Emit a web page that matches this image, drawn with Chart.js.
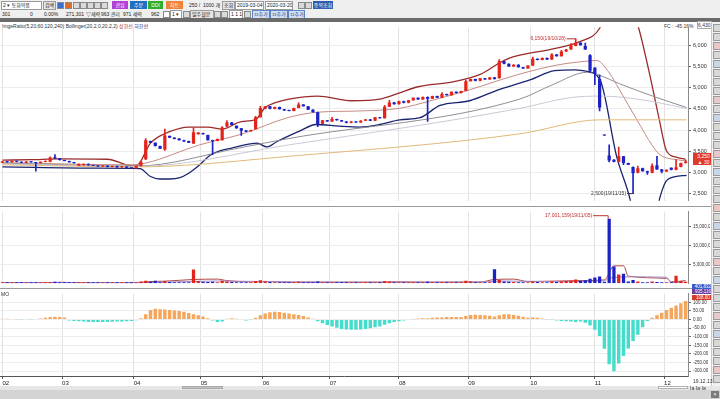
<!DOCTYPE html>
<html>
<head>
<meta charset="utf-8">
<script src="https://cdn.jsdelivr.net/npm/chart.js@4.4.1/dist/chart.umd.min.js"></script>
<style>
html, body { margin: 0; padding: 0; background: #fff; }
body { width: 720px; height: 399px; position: relative; overflow: hidden; font-family: "Liberation Sans", "Noto Sans CJK KR", sans-serif; }
.tb { position: absolute; left: 0; width: 720px; background: #efefef; }
.t { position: absolute; font-size: 5px; line-height: 8px; color: #222; white-space: nowrap; }
.box { position: absolute; height: 7px; border: 1px solid #9a9a9a; background: #fff; font-size: 5px; line-height: 7px; color: #222; white-space: nowrap; overflow: hidden; padding-left: 1px; }
.btn { position: absolute; height: 8px; font-size: 5px; line-height: 8px; color: #fff; text-align: center; }
.ic { position: absolute; width: 5px; height: 5px; border: 1px solid #8a8a8a; background: #dadada; }
canvas { position: absolute; left: 0; }
</style>
</head>
<body>

<div class="tb" style="top:0;height:18px;"></div>
<!-- row 1 -->
<div class="box" style="left:1px;top:1px;width:38px;">2 ▾ 동화약품</div>
<div class="box" style="left:43px;top:1px;width:10px;background:#e4e4e4;">검색</div>
<div class="ic" style="left:57px;top:2px;background:#3a6fd0;"></div>
<div class="ic" style="left:65px;top:2px;background:#e06a2a;"></div>
<div class="ic" style="left:73px;top:2px;"></div>
<div class="ic" style="left:80px;top:2px;"></div>
<div class="ic" style="left:87px;top:2px;"></div>
<div class="ic" style="left:94px;top:2px;"></div>
<div class="ic" style="left:101px;top:2px;"></div>
<div class="btn" style="left:112px;top:1px;width:16px;background:#b13fd8;">관심</div>
<div class="btn" style="left:130px;top:1px;width:17px;background:#1f6fc4;">주문</div>
<div class="btn" style="left:148px;top:1px;width:15px;background:#2fae2f;">DDI</div>
<div class="btn" style="left:166px;top:1px;width:17px;background:#f0843a;">차트</div>
<div class="t" style="left:189px;top:1px;">250 /</div>
<div class="t" style="left:203px;top:1px;">1000 개</div>
<div class="box" style="left:222px;top:1px;width:10px;background:#e4e4e4;">조회</div>
<div class="box" style="left:235px;top:1px;width:26px;">2019-03-04 ▾</div>
<div class="box" style="left:265px;top:1px;width:25px;">2020-03-20 ▾</div>
<div class="ic" style="left:298px;top:2px;"></div>
<div class="ic" style="left:305px;top:2px;"></div>
<div class="btn" style="left:313px;top:1px;width:20px;background:#2b5fae;">종목조회</div>
<!-- row 2 -->
<div class="t" style="left:2px;top:10px;">301</div>
<div class="t" style="left:30px;top:10px;">0</div>
<div class="t" style="left:44px;top:10px;">0.00%</div>
<div class="t" style="left:66px;top:10px;">271,301</div>
<div class="t" style="left:86px;top:10px;">▽세력</div>
<div class="t" style="left:101px;top:10px;">963 관리</div>
<div class="t" style="left:123px;top:10px;">971 세력</div>
<div class="t" style="left:151px;top:10px;">962</div>
<div class="ic" style="left:163px;top:11px;background:#fff;"></div>
<div class="box" style="left:170px;top:10px;width:9px;">1 ▾</div>
<div class="ic" style="left:183px;top:11px;"></div>
<div class="box" style="left:190px;top:10px;width:21px;background:#e4e4e4;">일주월분</div>
<div class="ic" style="left:214px;top:11px;"></div>
<div class="ic" style="left:221px;top:11px;"></div>
<div class="box" style="left:229px;top:10px;width:11px;">1 1 1</div>
<div class="ic" style="left:244px;top:11px;"></div>
<div class="box" style="left:252px;top:10px;width:15px;background:#cfe0f6;border-color:#5a86c8;color:#1a3f7a;">ㅁ추가</div>
<div class="box" style="left:270px;top:10px;width:15px;background:#cfe0f6;border-color:#5a86c8;color:#1a3f7a;">ㅁ추가</div>
<div class="box" style="left:288px;top:10px;width:14px;background:#cfe0f6;border-color:#5a86c8;color:#1a3f7a;">ㅁ추가</div>
<div style="position:absolute;left:0;top:18px;width:720px;height:4px;background:#6b6b6b;"></div>

<!-- panel legend / info -->
<div class="t" style="left:2px;top:22px;font-size:5px;color:#333;">ImgeRatio(5,20,60,120,240) Bollinger(20,2,0,20,2,2) <span style="color:#a03030">상한선</span> <span style="color:#1a237e">하한선</span></div>
<div class="t" style="left:664px;top:22px;font-size:5px;color:#333;">FC : -45.16%</div>
<div class="t" style="left:697px;top:21px;font-size:5px;color:#333;border:1px solid #aaa;line-height:6px;">6,430</div>

<canvas id="c-price" width="710" height="184" style="top:22px;"></canvas>
<div style="position:absolute;left:0;top:206px;width:711px;height:1px;background:#9a9a9a;"></div>
<canvas id="c-volume" width="710" height="81" style="top:207px;"></canvas>
<div style="position:absolute;left:0;top:288px;width:711px;height:1px;background:#9a9a9a;"></div>
<canvas id="c-osc" width="710" height="99" style="top:289px;"></canvas>
<div class="t" style="left:1px;top:290px;font-size:5px;color:#333;">MO</div>

<!-- right side badges -->
<div style="position:absolute;left:693px;top:153px;width:21px;height:12px;background:#e03a2a;color:#fff;font-size:5px;line-height:6px;text-align:center;">3,250<br>▲ 30</div>
<div style="position:absolute;left:692px;top:284px;width:22px;height:5px;background:#3a5cc8;color:#fff;font-size:4.5px;line-height:5px;text-align:center;">401,832</div>
<div style="position:absolute;left:692px;top:289px;width:22px;height:5px;background:#6a3fa0;color:#fff;font-size:4.5px;line-height:5px;text-align:center;">935,116</div>
<div style="position:absolute;left:692px;top:295px;width:22px;height:5px;background:#d83a2a;color:#fff;font-size:4.5px;line-height:5px;text-align:center;">108.00</div>

<!-- icon column -->
<div id="icons" style="position:absolute;left:711px;top:22px;width:9px;height:364px;background:#f2f2f2;border-left:1px solid #c8c8c8;"></div>

<!-- bottom bars -->
<div class="t" style="left:693px;top:377px;font-size:5px;color:#333;">19.12.13</div>
<div style="position:absolute;left:0;top:386px;width:720px;height:4px;background:#e6e6e6;"></div>
<div style="position:absolute;left:182px;top:386px;width:41px;height:3px;background:#c4c4c4;border:1px solid #a8a8a8;box-sizing:border-box;"></div>
<div style="position:absolute;left:658px;top:386px;width:30px;height:3px;background:#fff;border:1px solid #b0b0b0;box-sizing:border-box;"></div>
<div class="t" style="left:690px;top:384px;font-size:5px;color:#333;">Ia·Ia·Ia</div>
<div style="position:absolute;left:0;top:390px;width:720px;height:9px;background:#d4d4d4;"></div>
<div style="position:absolute;left:711px;top:391px;width:8px;height:7px;background:#7a7a7a;color:#fff;font-size:6px;line-height:7px;text-align:center;">×</div>

<script>
var N = 144;
var MONTHS = ['02', '03', '04', '05', '06', '07', '08', '09', '10', '11', '12'];
var MONTH_AT = [0, 12.5, 27.5, 41.5, 54.5, 68.5, 83, 97.5, 110.5, 124, 138.5];

var OPEN = [
  3230, 3260, 3240, 3270, 3250, 3230, 3260, 3240, 3220, 3250,
  3250, 3360, 3330, 3290, 3270, 3240, 3160, 3170, 3200, 3170,
  3160, 3140, 3160, 3130, 3150, 3120, 3140, 3110, 3100, 3150,
  3310, 3740, 3700, 3620, 3540, 3860, 3820, 3800, 3760, 3740,
  3680, 3900, 3930, 3880, 3760, 3740, 3760, 4080, 4180, 4100,
  4040, 3990, 3970, 4020, 4300, 4500, 4560, 4500, 4540, 4490,
  4470, 4450, 4520, 4600, 4560, 4480, 4420, 4150, 4230, 4200,
  4260, 4230, 4200, 4170, 4200, 4180, 4220, 4250, 4220, 4300,
  4280, 4550, 4650, 4610, 4680, 4640, 4700, 4760, 4720, 4780,
  4740, 4800, 4760, 4850, 4820, 4900, 4870, 4920, 5150, 5200,
  5160, 5220, 5190, 5240, 5220, 5620, 5560, 5500, 5540, 5480,
  5450, 5520, 5680, 5650, 5700, 5660, 5780, 5740, 5850, 5900,
  5980, 6060, 5980, 5760, 5470, 5200, 3880, 3400, 3300, 3250,
  3380, 3220, 3130, 2990, 3100, 3030, 2990, 3170, 3070, 3020,
  3110, 3060, 3130, 3220
];
var CLOSE = [
  3260, 3240, 3270, 3250, 3230, 3260, 3240, 3220, 3250, 3270,
  3350, 3330, 3290, 3270, 3240, 3220, 3200, 3200, 3170, 3160,
  3140, 3160, 3130, 3150, 3120, 3140, 3110, 3100, 3150, 3250,
  3760, 3700, 3620, 3560, 3870, 3820, 3790, 3760, 3730, 3700,
  3950, 3940, 3900, 3760, 3740, 3790, 4060, 4180, 4120, 4040,
  3980, 3960, 4000, 4300, 4520, 4560, 4500, 4540, 4490, 4460,
  4450, 4520, 4600, 4560, 4480, 4420, 4130, 4230, 4200, 4260,
  4230, 4200, 4170, 4200, 4180, 4220, 4250, 4220, 4300, 4280,
  4550, 4650, 4610, 4680, 4640, 4700, 4760, 4720, 4780, 4740,
  4800, 4760, 4850, 4820, 4900, 4870, 4920, 5150, 5200, 5160,
  5220, 5190, 5240, 5200, 5620, 5560, 5500, 5540, 5480, 5450,
  5520, 5680, 5650, 5700, 5660, 5780, 5740, 5850, 5900, 6000,
  6060, 6000, 5900, 5400, 5320, 4530, 3870, 3280, 3250, 3380,
  3220, 3180, 2980, 3100, 3030, 3000, 3160, 3070, 3020, 3060,
  3060, 3120, 3220, 3250
];
// null = no wick beyond the body
var HIGH = [
  null, null, null, null, null, null, null, null, null, null,
  3370, 3420, null, null, null, null, null, null, null, null,
  null, null, null, null, null, null, null, null, null, 3270,
  3800, null, null, null, 4020, null, null, null, null, null,
  4050, null, null, null, null, null, 4080, 4220, null, null,
  null, null, null, 4320, 4560, null, null, null, null, null,
  null, null, 4640, null, null, null, null, null, null, 4300,
  null, null, null, null, null, null, null, null, null, null,
  4580, 4700, null, null, null, null, null, null, null, null,
  null, null, 4880, null, null, null, null, 5180, null, null,
  null, null, null, null, 5660, null, null, null, null, null,
  null, 5720, null, null, null, 5800, null, 5880, null, 6040,
  6150, null, 6050, 5780, null, 5300, 3880, 3650, null, 3600,
  null, null, null, 3150, null, null, 3200, 3380, null, null,
  null, 3300, null, 3290
];
var LOW = [
  null, null, null, null, null, null, null, 3030, null, null,
  null, null, null, null, null, null, null, null, null, null,
  null, null, null, null, null, null, null, null, null, null,
  3300, null, null, null, 3520, null, null, null, null, null,
  null, null, null, null, 3420, null, null, null, null, null,
  3870, null, null, null, null, null, null, null, null, null,
  null, null, null, null, null, null, 4080, null, null, null,
  null, null, null, null, null, null, null, null, null, null,
  null, null, null, null, null, null, null, null, null, 4200,
  null, null, null, null, null, null, null, null, null, null,
  null, null, null, null, null, null, null, null, null, null,
  null, null, null, null, null, null, null, null, null, null,
  null, null, null, 5350, 5070, 4450, 3870, 3250, null, null,
  3180, null, 2500, null, null, 2950, null, null, 2990, null,
  null, null, null, null
];
var VOLUME = [
  180000, 150000, 170000, 140000, 130000, 160000, 150000, 140000, 170000, 200000,
  320000, 380000, 220000, 160000, 140000, 130000, 150000, 140000, 120000, 110000,
  120000, 100000, 110000, 100000, 110000, 120000, 100000, 110000, 250000, 450000,
  700000, 400000, 700000, 300000, 600000, 350000, 250000, 220000, 200000, 250000,
  3600000, 600000, 400000, 350000, 400000, 300000, 700000, 500000, 350000, 300000,
  280000, 250000, 250000, 600000, 800000, 450000, 350000, 300000, 250000, 220000,
  200000, 300000, 400000, 300000, 250000, 250000, 500000, 300000, 220000, 200000,
  180000, 170000, 160000, 170000, 150000, 160000, 170000, 150000, 200000, 180000,
  600000, 500000, 300000, 280000, 250000, 260000, 300000, 250000, 260000, 400000,
  280000, 250000, 300000, 250000, 280000, 240000, 260000, 700000, 450000, 300000,
  300000, 250000, 280000, 3700000, 900000, 500000, 400000, 350000, 300000, 280000,
  300000, 500000, 350000, 300000, 280000, 450000, 350000, 500000, 600000, 700000,
  1000000, 700000, 800000, 1200000, 1500000, 1800000, 400000, 17001159, 4400000, 2300000,
  2500000, 500000, 900000, 500000, 300000, 300000, 500000, 350000, 250000, 250000,
  200000, 2000000, 600000, 400000
];
var OSC = [
  5, 4, 3, 2, -2, -3, -1, 3, 6, 10,
  14, 16, 15, 12, -5, -8, -10, -12, -14, -15,
  -15, -14, -14, -13, -12, -11, -10, -8, -4, 8,
  30, 55, 62, 60, 58, 55, 52, 50, 45, 38,
  30, 25, 18, 8, -5, -15, -12, 5, 8, 4,
  -3, -6, -2, 10, 25, 35, 42, 45, 44, 40,
  35, 30, 26, 20, 12, 5, -10, -22, -32, -40,
  -48, -55, -58, -60, -60, -58, -55, -50, -45, -40,
  -30, -22, -15, -10, -6, -3, 2, 6, 8, 8,
  10, 12, 12, 14, 15, 15, 14, 20, 26, 28,
  27, 25, 22, 18, 25, 30, 30, 27, 22, 16,
  10, 12, 10, 6, 2, -2, -5, -8, -10, -12,
  -14, -12, -18, -35, -60, -95, -170, -260, -300, -255,
  -212, -168, -125, -88, -45, -8, 10, 25, 40, 55,
  68, 82, 95, 108
];

// indicator lines, [candle index, value] at the bends
var BB_UPPER = [[0, 3290], [6, 3300], [12, 3320], [22, 3311], [26, 3180], [28, 3150], [31, 3690], [35, 3960], [39, 4070], [43, 4070], [46, 4020], [50, 4200], [53, 4244], [55, 4530], [57, 4640], [60, 4730], [66, 4800], [73, 4690], [79, 4730], [83, 4870], [87, 5020], [94, 5130], [100, 5310], [104, 5580], [106, 5690], [115, 5910], [121, 6090], [125, 6400], [127, 7000], [131, 7000], [133, 6470], [135.5, 5300], [137.5, 4240], [139, 3510], [141, 3360], [143, 3310]];
var BB_MID = [[0, 3230], [26.7, 3180], [30, 3220], [41.3, 3650], [50, 3900], [60, 4300], [66, 4420], [75, 4450], [83, 4510], [90, 4700], [97.8, 4950], [108, 5310], [116, 5530], [122, 5620], [124.4, 5640], [127, 5350], [129, 4980], [132.8, 4240], [136, 3640], [137.6, 3420], [141.8, 3290], [143.2, 3270]];
var BB_LOWER = [[0, 3130], [20, 3100], [28.8, 3090], [30.9, 2910], [33, 2845], [35, 2845], [37, 2870], [39, 2980], [41.3, 3180], [43.4, 3400], [45.5, 3510], [48.2, 3580], [50.3, 3640], [53.3, 3690], [55.4, 3600], [57.5, 3730], [59.5, 3840], [62.3, 3980], [65.6, 4130], [70.6, 4090], [74.8, 4070], [79, 4130], [83.2, 4240], [87.4, 4290], [91.6, 4580], [97.8, 4690], [104.1, 4960], [110.4, 5180], [115.6, 5400], [119.8, 5420], [121.5, 5400], [125, 5200], [128.6, 3360], [131.3, 2400], [133, 1500], [136, 1500], [137.6, 2400], [139.3, 2840], [143.2, 2930]];
var MA_GRAY = [[0, 3220], [28, 3150], [49.7, 3580], [60, 3800], [108.3, 4730], [115.2, 5070], [122.3, 5360], [125, 5290], [129.2, 5090], [136.1, 4800], [143.2, 4530]];
var MA_LIGHT = [[0, 3200], [28, 3140], [60, 3650], [108.3, 4510], [118.7, 4760], [125, 4800], [132.8, 4730], [143.2, 4510]];
var MA_TAN = [[0, 3180], [28, 3130], [62, 3400], [108.3, 3910], [125, 4240], [143.2, 4240]];
var VOL_MA_A = [[0, 170000], [9, 180000], [12, 260000], [16, 180000], [28, 130000], [30, 400000], [34, 560000], [40, 1000000], [45, 1100000], [47, 700000], [52, 400000], [55, 500000], [60, 300000], [80, 300000], [82, 400000], [90, 300000], [100, 330000], [103, 1000000], [107, 1100000], [110, 450000], [120, 700000], [126, 900000], [128, 4600000], [130, 4600000], [131, 1900000], [139, 1300000], [140, 400000], [143, 700000]];
var VOL_MA_B = [[0, 160000], [28, 160000], [35, 350000], [45, 600000], [55, 450000], [70, 300000], [100, 350000], [105, 600000], [115, 450000], [126, 700000], [127, 1300000], [131, 1700000], [139, 1600000], [140, 250000], [143, 300000]];

var PRICE_TICKS = [2500, 3000, 3500, 4000, 4500, 5000, 5500, 6000];
var VOL_TICKS = [5000000, 10000000, 15000000];
var OSC_TICKS = [100, 50, 0, -50, -100, -150, -200, -250, -300];

var HI_I = 120, LO_I = 132, VOL_PEAK_I = 127;

var FONT = '"Liberation Sans", "Noto Sans CJK KR", sans-serif';
var UP = '#e3241b';
var DOWN = '#1c22c4';

function isUp(i) { return CLOSE[i] >= OPEN[i]; }
function candleColors() { return OPEN.map(function(o, i) { return isUp(i) ? UP : DOWN; }); }
function pts(pairs) { return pairs.map(function(p) { return { x: p[0], y: p[1] }; }); }
function num(v) { return v.toLocaleString('en-US'); }

function lineDs(pairs, color, width) {
  return {
    type: 'line', order: 5, data: pts(pairs),
    borderColor: color, borderWidth: width, pointRadius: 0,
    cubicInterpolationMode: 'monotone', fill: false,
  };
}

function xScale(showTicks) {
  return {
    type: 'linear', min: -0.5, max: N - 0.5, offset: false,
    afterBuildTicks: function(s) { s.ticks = MONTH_AT.map(function(v) { return { value: v }; }); },
    grid: { color: '#e2e2e2', drawTicks: showTicks, tickLength: 3, tickColor: '#555', offset: false },
    border: { display: showTicks, color: '#555' },
    ticks: {
      display: showTicks, autoSkip: false, maxRotation: 0, align: 'start', padding: 1,
      color: '#222', font: { size: 6, family: FONT },
      callback: function(v) { var k = MONTH_AT.indexOf(v); return k >= 0 ? MONTHS[k] : ''; },
    },
    afterFit: function(s) { s.height = showTicks ? 12 : 0; },
  };
}

function yScale(min, max, tickVals, fmt, size) {
  return {
    position: 'right', min: min, max: max,
    afterBuildTicks: function(s) { s.ticks = tickVals.map(function(v) { return { value: v }; }); },
    grid: { color: '#ececec', tickLength: 3, tickColor: '#666' },
    border: { color: '#8a8a8a' },
    ticks: { autoSkip: false, color: '#333', padding: 2, font: { size: size, family: FONT }, callback: fmt },
    afterFit: function(s) { s.width = 22; },
  };
}

function makeChart(id, datasets, yOpts, showX, padTop, extra) {
  return new Chart(document.getElementById(id), {
    type: 'bar',
    data: { datasets: datasets },
    options: {
      responsive: false, animation: false, devicePixelRatio: 1,
      layout: { padding: { top: padTop, left: 0, right: 0, bottom: 0 } },
      scales: { x: xScale(showX), y: yOpts },
      plugins: { legend: { display: false }, tooltip: { enabled: false } },
    },
    plugins: extra ? [extra] : [],
  });
}

// price panel
var priceNotes = {
  id: 'priceNotes',
  afterDatasetsDraw: function(c) {
    var ctx = c.ctx, x = c.scales.x, y = c.scales.y;
    ctx.save();
    ctx.font = '5px ' + FONT;
    ctx.fillStyle = '#c03030';
    ctx.strokeStyle = '#c03030';
    ctx.lineWidth = 1;
    ctx.textAlign = 'right';
    ctx.textBaseline = 'middle';
    var hx = x.getPixelForValue(HI_I), hy = y.getPixelForValue(HIGH[HI_I]);
    ctx.beginPath(); ctx.moveTo(hx - 9, hy); ctx.lineTo(hx, hy); ctx.stroke();
    ctx.fillText(num(HIGH[HI_I]) + '(19/10/28)', hx - 10, hy);
    var lx = x.getPixelForValue(LO_I), ly = y.getPixelForValue(LOW[LO_I]);
    ctx.fillStyle = '#333';
    ctx.strokeStyle = '#333';
    ctx.beginPath(); ctx.moveTo(lx - 6, ly); ctx.lineTo(lx, ly); ctx.stroke();
    ctx.fillText(num(LOW[LO_I]) + '(19/11/15)', lx - 7, ly);
    ctx.restore();
  },
};

makeChart('c-price', [
  {
    order: 0, grouped: false,
    data: OPEN.map(function(o, i) { return { x: i, y: [o, CLOSE[i]] }; }),
    backgroundColor: candleColors(),
    categoryPercentage: 1, barPercentage: 0.68, minBarLength: 1,
  },
  {
    order: 1, grouped: false,
    data: OPEN.map(function(o, i) {
      var lo = LOW[i] !== null ? LOW[i] : Math.min(o, CLOSE[i]);
      var hi = HIGH[i] !== null ? HIGH[i] : Math.max(o, CLOSE[i]);
      return { x: i, y: [lo, hi] };
    }),
    backgroundColor: candleColors(),
    barThickness: 1,
  },
  lineDs(MA_TAN, '#e2b878', 1),
  lineDs(MA_LIGHT, '#c9c9d6', 1),
  lineDs(MA_GRAY, '#8e8e96', 1),
  lineDs(BB_MID, '#c48a84', 1),
  lineDs(BB_LOWER, '#1a2370', 1.3),
  lineDs(BB_UPPER, '#9b2b2b', 1.3),
], yScale(2333, 6422, PRICE_TICKS, num, 5.5), false, 0, priceNotes);

// volume panel
var volNotes = {
  id: 'volNotes',
  afterDatasetsDraw: function(c) {
    var ctx = c.ctx, x = c.scales.x, y = c.scales.y;
    var vx = x.getPixelForValue(VOL_PEAK_I), vy = y.getPixelForValue(VOLUME[VOL_PEAK_I]);
    ctx.save();
    ctx.font = '5px ' + FONT;
    ctx.fillStyle = '#c03030';
    ctx.strokeStyle = '#c03030';
    ctx.lineWidth = 1;
    ctx.textAlign = 'right';
    ctx.textBaseline = 'middle';
    ctx.beginPath(); ctx.moveTo(vx - 16, vy - 3); ctx.lineTo(vx - 1, vy - 3); ctx.lineTo(vx - 1, vy); ctx.stroke();
    ctx.fillText(num(VOLUME[VOL_PEAK_I]) + '(19/11/05)', vx - 17, vy - 3);
    ctx.restore();
  },
};

makeChart('c-volume', [
  {
    order: 0, grouped: false,
    data: VOLUME.map(function(v, i) { return { x: i, y: v }; }),
    backgroundColor: candleColors(),
    categoryPercentage: 1, barPercentage: 0.68, minBarLength: 1,
  },
  lineDs(VOL_MA_B, '#a48cc8', 1),
  lineDs(VOL_MA_A, '#b04848', 1),
], yScale(0, 18840000, VOL_TICKS, num, 4.5), false, 0, volNotes);

// oscillator panel
makeChart('c-osc', [
  {
    order: 0, grouped: false,
    data: OSC.map(function(v, i) { return { x: i, y: v }; }),
    backgroundColor: OSC.map(function(v) { return v >= 0 ? '#f6a65a' : '#46dccb'; }),
    categoryPercentage: 1, barPercentage: 0.72,
  },
], yScale(-328, 150, OSC_TICKS, function(v) { return v.toFixed(2); }, 4.5), true, 1, null);

// right-hand tool icons
var col = document.getElementById('icons');
var ICON_TINTS = ['#d8d8d8', '#d8d8d8', '#e8c9c9', '#d8d8d8', '#c9d6ea', '#d8d8d8'];
for (var k = 0; k < 40; k++) {
  var d = document.createElement('div');
  d.style.cssText = 'position:absolute;left:1px;width:6px;height:6px;border:1px solid #9a9a9a;background:' + ICON_TINTS[k % ICON_TINTS.length] + ';top:' + (2 + k * 9) + 'px;';
  col.appendChild(d);
}
</script>
</body>
</html>
